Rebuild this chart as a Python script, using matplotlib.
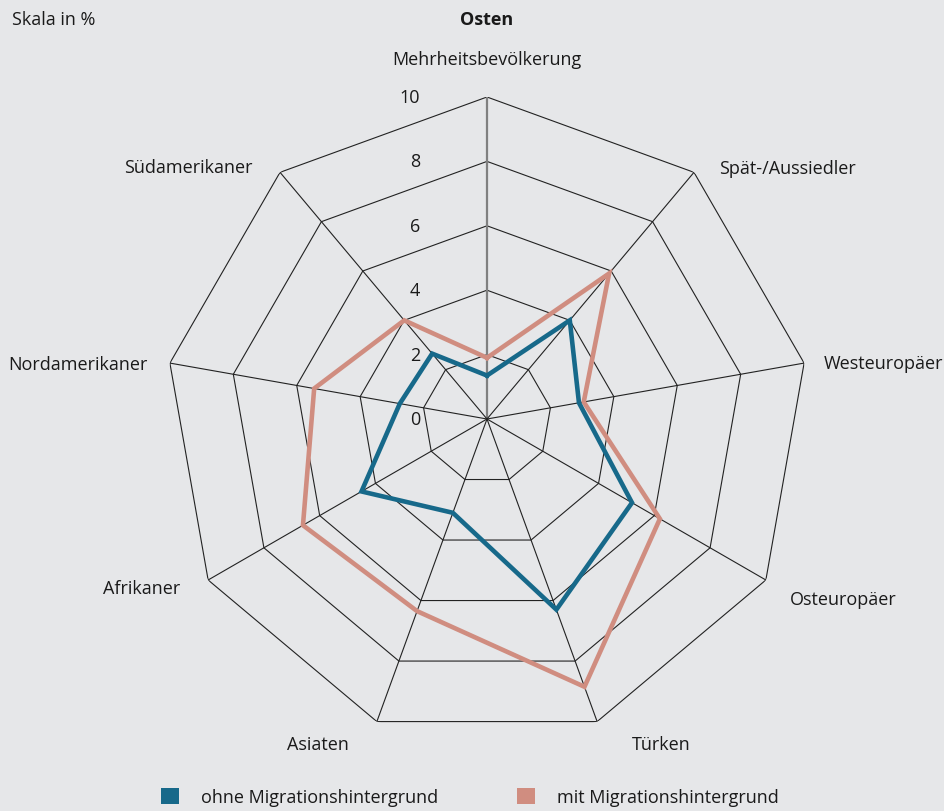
import numpy as np
import matplotlib
matplotlib.use("Agg")
import matplotlib.pyplot as plt
from matplotlib.patches import Patch

plt.rcParams['font.family'] = ['Open Sans', 'DejaVu Sans']

categories = ["Mehrheitsbevölkerung", "Spät-/Aussiedler", "Westeuropäer", "Osteuropäer",
              "Türken", "Asiaten", "Afrikaner", "Nordamerikaner", "Südamerikaner"]
ohne = [1.35, 4.0, 2.9, 5.2, 6.3, 3.1, 4.5, 2.75, 2.65]
mit = [1.9, 5.9, 3.05, 6.2, 8.85, 6.35, 6.6, 5.45, 4.0]
ticks = [0, 2, 4, 6, 8, 10]
series_labels = ["ohne Migrationshintergrund", "mit Migrationshintergrund"]

BG = "#e6e7e9"
BLUE = "#17698a"
PINK = "#d08d80"
TXT = "#1a1a1a"

fig = plt.figure(figsize=(9.45, 8.12), dpi=100, facecolor=BG)
cx, cy, R = 487 / 945, 1 - 420 / 812, 322
ax = fig.add_axes([cx - R / 945, cy - R / 812, 2 * R / 945, 2 * R / 812], projection="polar")
ax.set_facecolor("none")
ax.set_theta_zero_location("N")
ax.set_theta_direction(-1)
ax.set_ylim(0, 10)
ax.grid(False)
ax.spines["polar"].set_visible(False)
ax.set_xticks([])
ax.set_yticks([])

n = len(categories)
theta = np.arange(n) * 2 * np.pi / n
theta_closed = np.append(theta, theta[0])

# polygon rings
for t in ticks[1:]:
    ax.plot(theta_closed, [t] * (n + 1), color="#222222", lw=0.8, zorder=1)
# spokes
for i, th in enumerate(theta):
    if i == 0:
        ax.plot([th, th], [0, 10], color="#808080", lw=1.6, zorder=1)
    else:
        ax.plot([th, th], [0, 10], color="#222222", lw=0.8, zorder=1)

# data
ax.plot(theta_closed, ohne + [ohne[0]], color=BLUE, lw=3.3, zorder=3, solid_joinstyle="miter")
ax.plot(theta_closed, mit + [mit[0]], color=PINK, lw=3.3, zorder=2, solid_joinstyle="miter")

# tick labels
for t in ticks:
    ax.annotate(str(t), xy=(0, t), xytext=(-48, 0), textcoords="offset points",
                ha="right", va="center", fontsize=13, color=TXT)

# category labels
offsets = [(0, 21, "center", "bottom"),
           (18, 3, "left", "center"),
           (14, 0, "left", "center"),
           (17, -14, "left", "center"),
           (25, -16, "left", "center"),
           (-20, -16, "right", "center"),
           (-20, -6, "right", "center"),
           (-16, -1, "right", "center"),
           (-20, 4, "right", "center")]
for th, lab, (dx, dy, ha, va) in zip(theta, categories, offsets):
    ax.annotate(lab, xy=(th, 10), xytext=(dx, dy), textcoords="offset points",
                ha=ha, va=va, fontsize=13, color=TXT)

fig.text(12 / 945, 1 - 20 / 812, "Skala in %", ha="left", va="center", fontsize=13, color=TXT)
fig.text(cx, 1 - 20 / 812, "Osten", ha="center", va="center", fontsize=13,
         fontweight="bold", color=TXT)

handles = [Patch(facecolor=BLUE, edgecolor="none"), Patch(facecolor=PINK, edgecolor="none")]
fig.legend(handles, series_labels, loc="center", bbox_to_anchor=(0.497, 1 - 798 / 812),
           ncol=2, frameon=False, fontsize=13, handlelength=1.0, handleheight=1.0,
           handletextpad=1.2, columnspacing=4.4, labelcolor=TXT)

fig.savefig("out.png", dpi=100, facecolor=BG)
